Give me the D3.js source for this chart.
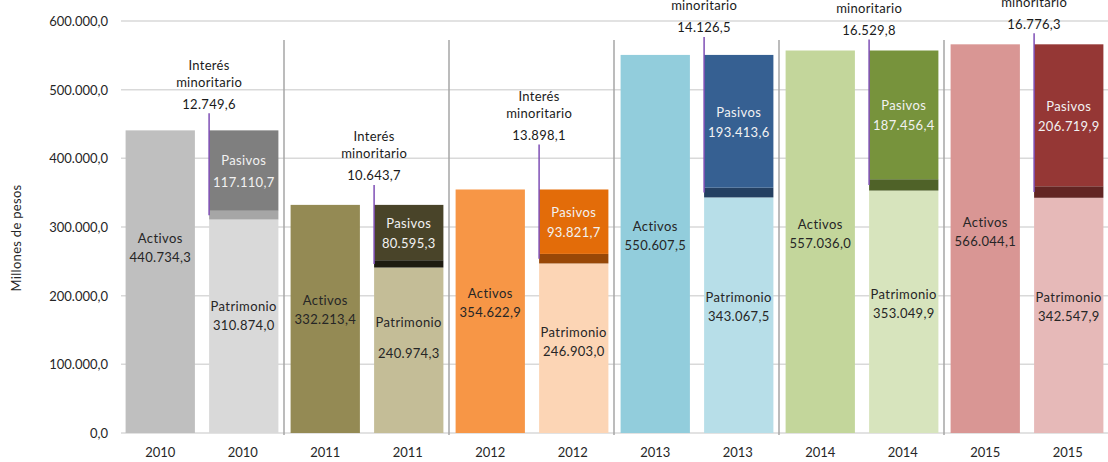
<!DOCTYPE html>
<html>
<head>
<meta charset="utf-8">
<script src="https://cdn.jsdelivr.net/npm/d3@7"></script>
<style>
  body { margin: 0; background: #fff; }
  svg text { font-family: Lato, "Open Sans", sans-serif; }
</style>
</head>
<body>
<svg id="chart" width="1108" height="462"></svg>
<script>
const years = ["2010", "2011", "2012", "2013", "2014", "2015"];
const activos = [440734.3, 332213.4, 354622.9, 550607.5, 557036.0, 566044.1];
const patrimonio = [310874.0, 240974.3, 246903.0, 343067.5, 353049.9, 342547.9];
const minoritario = [12749.6, 10643.7, 13898.1, 14126.5, 16529.8, 16776.3];
const pasivos = [117110.7, 80595.3, 93821.7, 193413.6, 187456.4, 206719.9];
const yTicks = [0, 100000, 200000, 300000, 400000, 500000, 600000];

// colours per year: activos, patrimonio, minoritario, pasivos
const colActivos = ["#bfbfbf", "#948a54", "#f79646", "#92cddc", "#c3d69b", "#d99694"];
const colPatrimonio = ["#d9d9d9", "#c4bd97", "#fcd5b5", "#b7dee8", "#d7e4bd", "#e6b9b8"];
const colMinoritario = ["#a6a6a6", "#1d1b10", "#984807", "#244062", "#4f6228", "#632523"];
const colPasivos = ["#7f7f7f", "#494429", "#e36c09", "#366092", "#77933c", "#953735"];

// hand placed label tweaks (pixels)
const calloutRise = [17, 20, 45, 18, 11, 11];
const activosShift = [-34, -9, -8, -8, -8, -7];
const patrimonioShift = [-10, -12, -6, -8, -8, -8];

const svg = d3.select("#chart");
const locale = d3.formatLocale({ decimal: ",", thousands: ".", grouping: [3], currency: ["$", ""] });
const fmt = locale.format(",.1f");

const keys = [];
years.forEach(y => { keys.push(y + "|a"); keys.push(y + "|b"); });

const x = d3.scaleBand().domain(keys).range([119, 1109]).paddingInner(0.16).paddingOuter(0.08);
const y = d3.scaleLinear().domain([0, 600000]).range([433, 21]);
const gap = (x.step() - x.bandwidth()) / 2;

// gridlines
svg.append("g").selectAll("line")
    .data(yTicks)
    .enter().append("line")
    .attr("x1", 121).attr("x2", 1108)
    .attr("y1", d => y(d)).attr("y2", d => y(d))
    .attr("stroke", "#d9d9d9").attr("stroke-width", 1.5);

// y axis
const yAxis = svg.append("g")
    .attr("transform", "translate(110,0)")
    .call(d3.axisLeft(y).tickValues(yTicks).tickFormat(fmt).tickSize(0));
yAxis.select(".domain").remove();
yAxis.selectAll("text").attr("font-size", 13).attr("fill", "#262626").attr("dy", "0.35em").attr("x", -2);

svg.append("text")
    .attr("transform", "translate(21,238) rotate(-90)")
    .attr("text-anchor", "middle")
    .attr("font-size", 13)
    .attr("letter-spacing", 0.3)
    .attr("fill", "#262626")
    .text("Millones de pesos");

// x axis
const xAxis = svg.append("g")
    .attr("transform", "translate(0,443)")
    .call(d3.axisBottom(x).tickFormat(d => d.split("|")[0]).tickSize(0));
xAxis.select(".domain").remove();
xAxis.selectAll("text").attr("font-size", 13).attr("fill", "#262626").attr("dy", "0.35em").attr("y", 9);

// separators between years
svg.append("g").selectAll("line")
    .data(years.slice(1))
    .enter().append("line")
    .attr("x1", d => x(d + "|a") - gap).attr("x2", d => x(d + "|a") - gap)
    .attr("y1", 40).attr("y2", 435)
    .attr("stroke", "#a6a6a6").attr("stroke-width", 1.5);

const bars = svg.append("g");

// activos bars
bars.selectAll("rect.act")
    .data(years)
    .enter().append("rect")
    .attr("class", "act")
    .attr("x", d => x(d + "|a"))
    .attr("width", x.bandwidth())
    .attr("y", (d, i) => y(activos[i]))
    .attr("height", (d, i) => y(0) - y(activos[i]))
    .attr("fill", (d, i) => colActivos[i]);

// stacked bars
const segs = [];
years.forEach((yr, i) => {
    const p = patrimonio[i], m = minoritario[i], s = pasivos[i];
    segs.push({ yr, i, k: "pat", y0: 0, y1: p, c: colPatrimonio[i] });
    segs.push({ yr, i, k: "min", y0: p, y1: p + m, c: colMinoritario[i] });
    segs.push({ yr, i, k: "pas", y0: p + m, y1: p + m + s, c: colPasivos[i] });
});

bars.selectAll("rect.seg")
    .data(segs)
    .enter().append("rect")
    .attr("class", "seg")
    .attr("x", d => x(d.yr + "|b") + 1)
    .attr("width", x.bandwidth())
    .attr("y", d => y(d.y1))
    .attr("height", d => y(d.y0) - y(d.y1))
    .attr("fill", d => d.c);

// labels inside bars
function pairLabel(cx, cy, title, value, color, gapPx) {
    const g = svg.append("g").attr("font-size", 13).attr("fill", color).attr("text-anchor", "middle");
    g.append("text").attr("x", cx).attr("y", cy - gapPx / 2).attr("dy", "0.35em").attr("letter-spacing", 0.4).text(title);
    g.append("text").attr("x", cx).attr("y", cy + gapPx / 2).attr("dy", "0.35em").attr("letter-spacing", 0.3).text(fmt(value));
}

years.forEach((yr, i) => {
    const cxA = x(yr + "|a") + x.bandwidth() / 2;
    const cxB = x(yr + "|b") + 1 + x.bandwidth() / 2;
    pairLabel(cxA, (y(activos[i]) + y(0)) / 2 + activosShift[i], "Activos", activos[i], "#262626", 19);
    const pTop = patrimonio[i];
    pairLabel(cxB, (y(pTop) + y(0)) / 2 + patrimonioShift[i], "Patrimonio", patrimonio[i], "#262626", i === 1 ? 31 : 19);
    const sBot = patrimonio[i] + minoritario[i];
    pairLabel(cxB, (y(sBot) + y(sBot + pasivos[i])) / 2 + 1, "Pasivos", pasivos[i], "#f2f2f2", i === 0 ? 22 : 20);

    // minority interest callout
    const lx = x(yr + "|b") + 1;
    const top = y(activos[i]) - calloutRise[i];
    const bot = y(patrimonio[i] + minoritario[i] / 2);
    svg.append("line")
        .attr("x1", lx).attr("x2", lx)
        .attr("y1", top).attr("y2", bot)
        .attr("stroke", "#7f4fb5").attr("stroke-width", 1.5);
    const cg = svg.append("g").attr("font-size", 13).attr("fill", "#1a1a1a").attr("text-anchor", "middle");
    cg.append("text").attr("x", lx).attr("y", top - 48).attr("dy", "0.35em").attr("letter-spacing", 0.3).text("Interés");
    cg.append("text").attr("x", lx).attr("y", top - 31).attr("dy", "0.35em").attr("letter-spacing", 0.3).text("minoritario");
    cg.append("text").attr("x", lx).attr("y", top - 9).attr("dy", "0.35em").attr("letter-spacing", 0.3).text(fmt(minoritario[i]));
});
</script>
</body>
</html>
